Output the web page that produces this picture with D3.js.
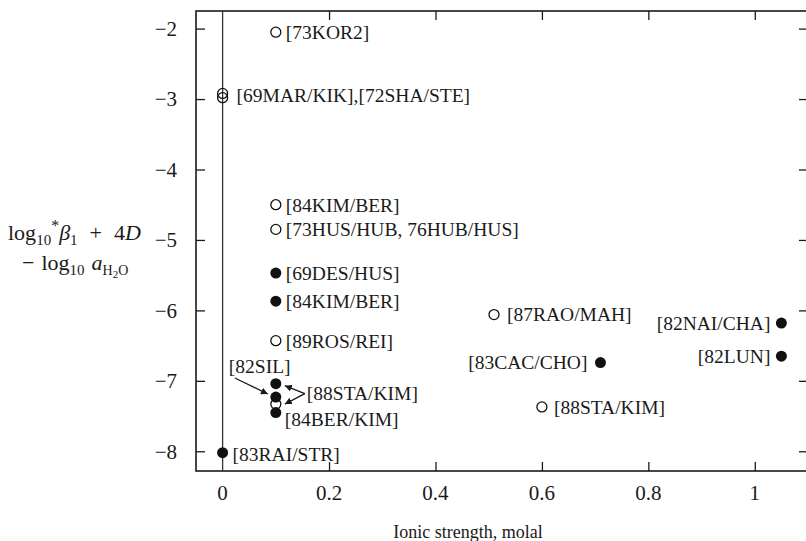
<!DOCTYPE html>
<html>
<head>
<meta charset="utf-8">
<script src="https://cdn.jsdelivr.net/npm/d3@7"></script>
<style>
  body { margin: 0; background: #fff; }
  text { font-family: "Liberation Serif", "Times New Roman", serif; fill: #1a1a1a; }
</style>
</head>
<body>
<div id="chart"></div>
<script>
"use strict"

// data
const pointRefs = ["73KOR2", "69MAR/KIK", "72SHA/STE", "84KIM/BER", "73HUS/HUB, 76HUB/HUS",
    "69DES/HUS", "84KIM/BER", "89ROS/REI", "88STA/KIM", "82SIL", "88STA/KIM", "84BER/KIM",
    "83RAI/STR", "87RAO/MAH", "83CAC/CHO", "88STA/KIM", "82NAI/CHA", "82LUN"];
const ionicStrength = [0.1, 0, 0, 0.1, 0.1, 0.1, 0.1, 0.1, 0.1, 0.1, 0.1, 0.1, 0, 0.51, 0.71, 0.6, 1.05, 1.05];
const logValue = [-2.05, -2.92, -2.98, -4.5, -4.85, -5.47, -5.87, -6.43, -7.04, -7.23, -7.33, -7.45,
    -8.02, -6.06, -6.74, -7.37, -6.18, -6.65];
const isFilled = [false, false, false, false, false, true, true, false, true, true, false, true,
    true, false, true, false, true, true];

const xTicks = [0, 0.2, 0.4, 0.6, 0.8, 1];
const xTickLabels = ["0", "0.2", "0.4", "0.6", "0.8", "1"];
const yTicks = [-8, -7, -6, -5, -4, -3, -2];

// where each reference label sits, relative to its point (pixels)
const labelLayout = [
    { i: 0, text: "[73KOR2]", dx: 10, dy: 0 },
    { i: 1, text: "[69MAR/KIK],[72SHA/STE]", dx: 14, dy: 2 },
    { i: 3, text: "[84KIM/BER]", dx: 10, dy: 0 },
    { i: 4, text: "[73HUS/HUB, 76HUB/HUS]", dx: 10, dy: 0 },
    { i: 5, text: "[69DES/HUS]", dx: 10, dy: 0 },
    { i: 6, text: "[84KIM/BER]", dx: 10, dy: 0 },
    { i: 7, text: "[89ROS/REI]", dx: 10, dy: 0 },
    { i: 8, text: "[88STA/KIM]", dx: 31, dy: 10 },
    { i: 9, text: "[82SIL]", dx: -47, dy: -31 },
    { i: 11, text: "[84BER/KIM]", dx: 9, dy: 7 },
    { i: 12, text: "[83RAI/STR]", dx: 10, dy: 1 },
    { i: 13, text: "[87RAO/MAH]", dx: 13, dy: 0 },
    { i: 14, text: "[83CAC/CHO]", dx: -13, dy: 0, anchor: "end" },
    { i: 15, text: "[88STA/KIM]", dx: 12, dy: 0 },
    { i: 16, text: "[82NAI/CHA]", dx: -11, dy: 0, anchor: "end" },
    { i: 17, text: "[82LUN]", dx: -11, dy: 0, anchor: "end" }
];

// leader arrows: start offset from one point, tip offset from another
const arrowLayout = [
    { from: 9, fx: -41, fy: -19, to: 9, tx: -8, ty: -3 },
    { from: 8, fx: 29, fy: 10, to: 8, tx: 9, ty: 2 },
    { from: 8, fx: 29, fy: 10, to: 10, tx: 9, ty: 0 }
];

const width = 806;
const height = 541;

let svg = d3.select("#chart")
    .append("svg")
    .attr("width", width)
    .attr("height", height);

let x = d3.scaleLinear()
    .domain([-0.05, 1.1])
    .range([196, 808]);

let y = d3.scaleLinear()
    .domain([-8.28, -1.75])
    .range([471, 11]);

let fmtMinus = d => d < 0 ? "\u2212" + Math.abs(d) : String(d);

// left axis with labels, ticks pointing in
let leftAxis = svg.append("g")
    .attr("transform", "translate(196,0)")
    .call(d3.axisLeft(y).tickValues(yTicks).tickSizeInner(-9).tickSizeOuter(0)
        .tickPadding(19).tickFormat(fmtMinus));
leftAxis.selectAll("text").attr("font-size", 21);

// right axis, ticks only
let rightAxis = svg.append("g")
    .attr("transform", "translate(808,0)")
    .call(d3.axisRight(y).tickValues(yTicks).tickSizeInner(-9).tickSizeOuter(0).tickFormat(""));

// bottom axis, ticks only (labels drawn below)
let bottomAxis = svg.append("g")
    .attr("transform", "translate(0,471)")
    .call(d3.axisBottom(x).tickValues(xTicks.slice(1)).tickSizeInner(-9).tickSizeOuter(0).tickFormat(""));

svg.append("g")
    .selectAll("text")
    .data(xTicks)
    .join("text")
    .attr("x", d => x(d))
    .attr("y", 500)
    .attr("text-anchor", "middle")
    .attr("font-size", 21)
    .text((d, k) => xTickLabels[k]);

// top axis, ticks only
let topAxis = svg.append("g")
    .attr("transform", "translate(0,11)")
    .call(d3.axisTop(x).tickValues(xTicks.slice(1)).tickSizeInner(-9).tickSizeOuter(0).tickFormat(""));

svg.selectAll(".domain").remove();
svg.selectAll(".tick line").attr("stroke", "#1a1a1a").attr("stroke-width", 1.3);

// frame
svg.append("rect")
    .attr("x", 196)
    .attr("y", 11)
    .attr("width", 612)
    .attr("height", 460)
    .attr("fill", "none")
    .attr("stroke", "#1a1a1a")
    .attr("stroke-width", 1.6);

// zero ionic strength line
svg.append("line")
    .attr("x1", x(0))
    .attr("x2", x(0))
    .attr("y1", 11)
    .attr("y2", 471)
    .attr("stroke", "#333")
    .attr("stroke-width", 1.3);

// arrowhead
svg.append("defs").append("marker")
    .attr("id", "head")
    .attr("viewBox", "0 0 10 10")
    .attr("refX", 10)
    .attr("refY", 5)
    .attr("markerWidth", 7)
    .attr("markerHeight", 7)
    .attr("markerUnits", "userSpaceOnUse")
    .attr("orient", "auto")
    .append("path")
    .attr("d", "M0,0 L10,5 L0,10 Z")
    .attr("fill", "#1a1a1a");

svg.append("g")
    .selectAll("line")
    .data(arrowLayout)
    .join("line")
    .attr("x1", a => x(ionicStrength[a.from]) + a.fx)
    .attr("y1", a => y(logValue[a.from]) + a.fy)
    .attr("x2", a => x(ionicStrength[a.to]) + a.tx)
    .attr("y2", a => y(logValue[a.to]) + a.ty)
    .attr("stroke", "#1a1a1a")
    .attr("stroke-width", 1.3)
    .attr("marker-end", "url(#head)");

// points
let idx = d3.range(pointRefs.length);
svg.append("g")
    .selectAll("circle")
    .data(idx)
    .join("circle")
    .attr("cx", k => x(ionicStrength[k]))
    .attr("cy", k => y(logValue[k]))
    .attr("r", k => isFilled[k] ? 5.5 : 5)
    .attr("fill", k => isFilled[k] ? "#111" : "none")
    .attr("stroke", "#111")
    .attr("stroke-width", k => isFilled[k] ? 0 : 1.3);

// reference labels
svg.append("g")
    .selectAll("text")
    .data(labelLayout)
    .join("text")
    .attr("x", l => x(ionicStrength[l.i]) + l.dx)
    .attr("y", l => y(logValue[l.i]) + l.dy)
    .attr("dy", "0.35em")
    .attr("text-anchor", l => l.anchor || "start")
    .attr("font-size", 19.5)
    .text(l => l.text);

// y axis title, two lines
let yTitle = svg.append("text")
    .attr("font-size", 22);
let line1 = yTitle.append("tspan").attr("x", 8).attr("y", 240);
line1.append("tspan").text("log");
line1.append("tspan").attr("font-size", 15).attr("dy", 5).text("10");
line1.append("tspan").attr("font-size", 16).attr("dy", -14).text("*");
line1.append("tspan").attr("font-style", "italic").attr("dy", 9).text("\u03B2");
line1.append("tspan").attr("font-size", 15).attr("dy", 5).text("1");
line1.append("tspan").attr("dy", -5).attr("dx", 12).text("+");
line1.append("tspan").attr("dx", 12).text("4");
line1.append("tspan").attr("font-style", "italic").text("D");

let line2 = yTitle.append("tspan").attr("x", 22).attr("y", 270);
line2.append("tspan").text("\u2212");
line2.append("tspan").attr("dx", 7).text("log");
line2.append("tspan").attr("font-size", 15).attr("dy", 5).text("10");
line2.append("tspan").attr("font-style", "italic").attr("dx", 7).attr("dy", -5).text("a");
line2.append("tspan").attr("font-size", 14).attr("dy", 5).text("H");
line2.append("tspan").attr("font-size", 11).attr("dy", 3).text("2");
line2.append("tspan").attr("font-size", 14).attr("dy", -3).text("O");

// x axis title
svg.append("text")
    .attr("x", 468)
    .attr("y", 538)
    .attr("text-anchor", "middle")
    .attr("font-size", 18)
    .text("Ionic strength, molal");
</script>
</body>
</html>
